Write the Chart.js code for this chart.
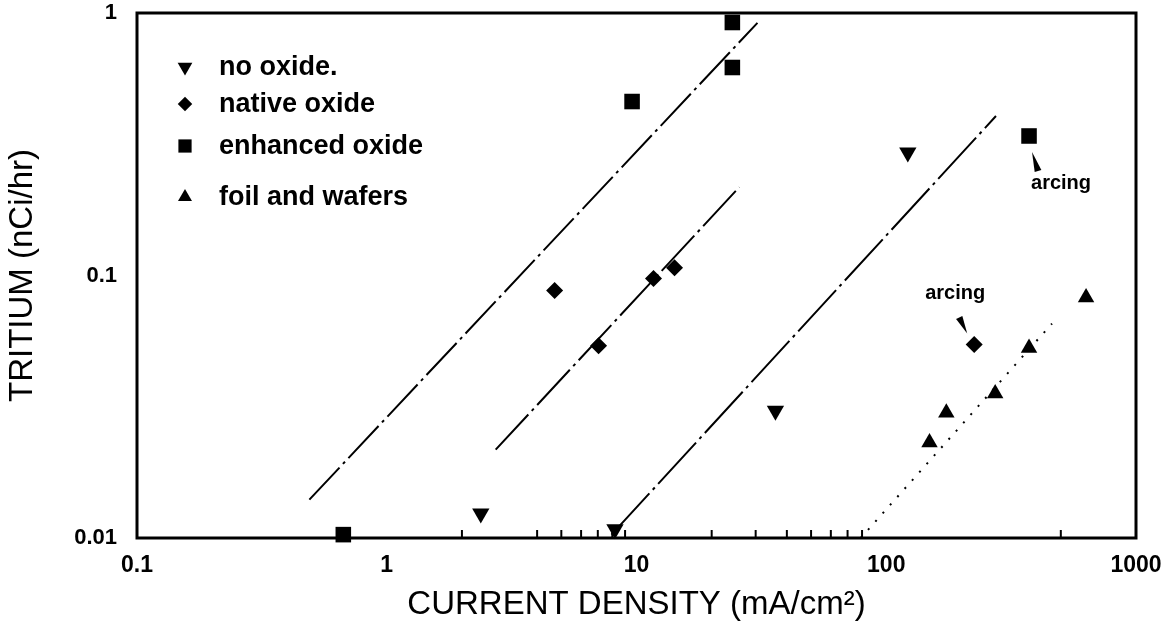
<!DOCTYPE html>
<html>
<head>
<meta charset="utf-8">
<script src="https://cdn.jsdelivr.net/npm/chart.js@4.4.1/dist/chart.umd.min.js"></script>
<style>
    html, body { margin: 0; padding: 0; background: #fff; }
    #wrap { width: 1170px; height: 634px; }
</style>
</head>
<body>
<div id="wrap"><canvas id="js--chart" width="1170" height="634"></canvas></div>
<script>
const noOxideX = [2.38, 8.2, 36, 122]
const noOxideY = [0.0124, 0.0108, 0.0305, 0.294]

const nativeX = [4.7, 7.05, 11.7, 14.2, 225]
const nativeY = [0.0877, 0.054, 0.0975, 0.107, 0.0546]

const enhancedX = [0.67, 9.6, 24.2, 24.2, 373]
const enhancedY = [0.0103, 0.46, 0.62, 0.92, 0.34]

const foilX = [149, 174, 273, 373, 631]
const foilY = [0.0231, 0.030, 0.0355, 0.053, 0.0824]

// fitted lines (start / end)
const fitEnhancedX = [0.49, 30.5]
const fitEnhancedY = [0.014, 0.917]
const fitNativeX = [2.73, 25.8]
const fitNativeY = [0.0217, 0.217]
const fitNoOxideX = [7.94, 275]
const fitNoOxideY = [0.0103, 0.405]
const fitFoilX = [79, 461]
const fitFoilY = [0.01, 0.0656]

const xTickValues = [0.1, 1, 10, 100, 1000]
const xTickLabels = ["0.1", "1", "10", "100", "1000"]
const yTickValues = [0.01, 0.1, 1]
const yTickLabels = ["0.01", "0.1", "1"]
const xMinorTicks = [2, 4, 5, 6, 7, 8, 9, 20, 30, 40, 50, 60, 70, 80, 500]

const legendLabels = ["no oxide.", "native oxide", "enhanced oxide", "foil and wafers"]
const arcingText = "arcing"

function points(xs, ys) {
    return xs.map(function (x, i) {
        return { x: x, y: ys[i] }
    })
}

const font = "'Liberation Sans', Arial, Helvetica, sans-serif"

function markerSet(label, xs, ys, style, rotation, radius) {
    return {
        label: label,
        data: points(xs, ys),
        pointStyle: style,
        rotation: rotation,
        pointRadius: radius,
        pointHoverRadius: radius,
        backgroundColor: "#000",
        borderColor: "#000",
        borderWidth: 0,
        showLine: false,
        clip: false,
        order: 1
    }
}

function fitLine(xs, ys, dash) {
    return {
        label: "",
        data: points(xs, ys),
        showLine: true,
        pointRadius: 0,
        borderColor: "#000",
        borderWidth: 2,
        borderDash: dash,
        fill: false,
        order: 2
    }
}

const markerSets = [
    markerSet(legendLabels[0], noOxideX, noOxideY, "triangle", 180, 10),
    markerSet(legendLabels[1], nativeX, nativeY, "rectRot", 0, 8.5),
    markerSet(legendLabels[2], enhancedX, enhancedY, "rect", 0, 11),
    markerSet(legendLabels[3], foilX, foilY, "triangle", 0, 9.5)
]

const lineSets = [
    fitLine(fitEnhancedX, fitEnhancedY, [44, 5, 3, 5]),
    fitLine(fitNativeX, fitNativeY, [48, 5, 3, 5]),
    fitLine(fitNoOxideX, fitNoOxideY, [56, 5, 3, 5]),
    fitLine(fitFoilX, fitFoilY, [2, 9])
]

function drawMarker(ctx, ds, x, y) {
    ctx.fillStyle = "#000"
    ctx.strokeStyle = "#000"
    if (Chart.helpers && Chart.helpers.drawPoint) {
        Chart.helpers.drawPoint(ctx, {
            pointStyle: ds.pointStyle,
            rotation: ds.rotation,
            radius: ds.pointRadius * 0.85,
            borderWidth: 0
        }, x, y)
    }
}

// plot frame, minor ticks, legend, "arcing" notes
const extras = {
    id: "extras",
    afterDraw: function (chart) {
        const ctx = chart.ctx
        const area = chart.chartArea
        const xs = chart.scales.x
        const ys = chart.scales.y
        ctx.save()

        ctx.strokeStyle = "#000"
        ctx.lineWidth = 3
        ctx.setLineDash([])
        ctx.strokeRect(area.left, area.top, area.right - area.left, area.bottom - area.top)

        ctx.lineWidth = 2
        xMinorTicks.forEach(function (v) {
            const px = xs.getPixelForValue(v)
            ctx.beginPath()
            ctx.moveTo(px, area.bottom)
            ctx.lineTo(px, area.bottom - 8)
            ctx.stroke()
        })

        const rowY = [54, 91, 133, 184]
        ctx.font = "bold 27px " + font
        ctx.textBaseline = "middle"
        ctx.textAlign = "left"
        markerSets.forEach(function (ds, i) {
            drawMarker(ctx, ds, area.left + 48, area.top + rowY[i])
            ctx.fillStyle = "#000"
            ctx.fillText(ds.label, area.left + 82, area.top + rowY[i] + 1)
        })

        const notes = [
            { x: enhancedX[4], y: enhancedY[4], tx: 32, ty: 47, tip: [3, 16], base: [9, 35] },
            { x: nativeX[4], y: nativeY[4], tx: -19, ty: -51, tip: [-7, -11], base: [-15, -27] }
        ]
        ctx.font = "bold 20px " + font
        ctx.textAlign = "center"
        notes.forEach(function (n) {
            const px = xs.getPixelForValue(n.x)
            const py = ys.getPixelForValue(n.y)
            ctx.fillText(arcingText, px + n.tx, py + n.ty)
            const tx = px + n.tip[0], ty = py + n.tip[1]
            const bx = px + n.base[0], by = py + n.base[1]
            const len = Math.hypot(bx - tx, by - ty)
            const nx = -(by - ty) / len * 3.5, ny = (bx - tx) / len * 3.5
            ctx.beginPath()
            ctx.moveTo(tx, ty)
            ctx.lineTo(bx + nx, by + ny)
            ctx.lineTo(bx - nx, by - ny)
            ctx.closePath()
            ctx.fill()
        })
        ctx.restore()
    }
}

new Chart(document.getElementById("js--chart"), {
    type: "scatter",
    data: { datasets: markerSets.concat(lineSets) },
    options: {
        responsive: false,
        animation: false,
        events: [],
        layout: { autoPadding: false, padding: { left: 0, right: 34, top: 13, bottom: 0 } },
        plugins: { legend: { display: false }, tooltip: { enabled: false } },
        scales: {
            x: {
                type: "logarithmic",
                min: 0.1,
                max: 1000,
                grid: { display: false, drawTicks: false },
                border: { display: false },
                afterBuildTicks: function (scale) {
                    scale.ticks = xTickValues.map(function (v) { return { value: v } })
                },
                afterFit: function (scale) {
                    scale.height = 96
                    scale.paddingLeft = 0
                    scale.paddingRight = 0
                },
                ticks: {
                    autoSkip: false,
                    maxRotation: 0,
                    padding: 14,
                    color: "#000",
                    font: { family: font, size: 23, weight: "bold" },
                    callback: function (value) {
                        const i = xTickValues.indexOf(value)
                        return i >= 0 ? xTickLabels[i] : ""
                    }
                },
                title: {
                    display: true,
                    text: "CURRENT DENSITY (mA/cm²)",
                    color: "#000",
                    font: { family: font, size: 33 },
                    padding: { top: 0, bottom: 9 }
                }
            },
            y: {
                type: "logarithmic",
                min: 0.01,
                max: 1,
                grid: { display: false, drawTicks: false },
                border: { display: false },
                afterBuildTicks: function (scale) {
                    scale.ticks = yTickValues.map(function (v) { return { value: v } })
                },
                afterFit: function (scale) {
                    scale.width = 137
                    scale.paddingTop = 0
                    scale.paddingBottom = 0
                },
                ticks: {
                    autoSkip: false,
                    padding: 20,
                    color: "#000",
                    font: { family: font, size: 22, weight: "bold" },
                    callback: function (value) {
                        const i = yTickValues.indexOf(value)
                        return i >= 0 ? yTickLabels[i] : ""
                    }
                },
                title: {
                    display: true,
                    text: "TRITIUM (nCi/hr)",
                    color: "#000",
                    font: { family: font, size: 33 },
                    padding: { top: 3, bottom: 0 }
                }
            }
        }
    },
    plugins: [extras]
})
</script>
</body>
</html>
